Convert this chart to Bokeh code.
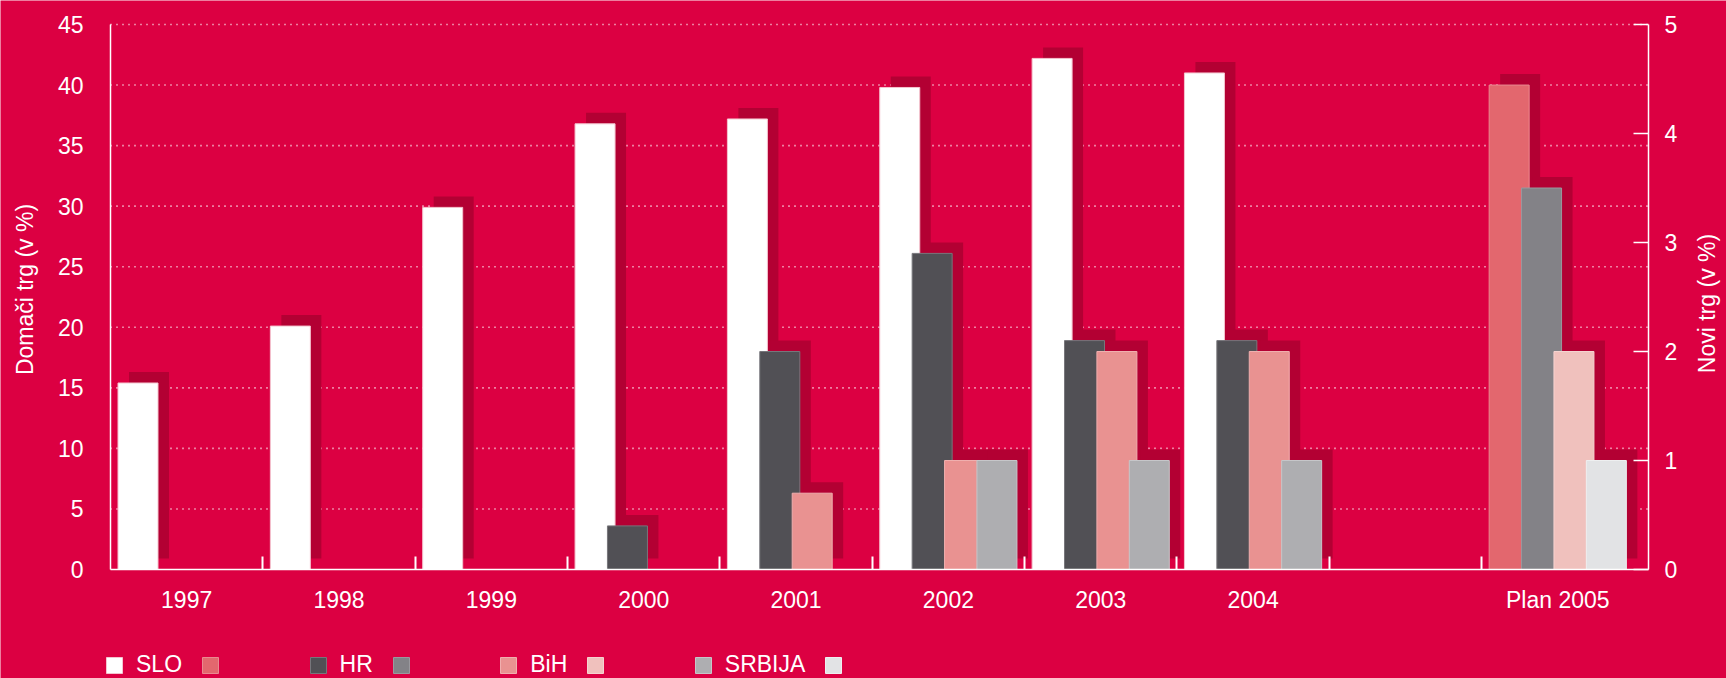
import math
from bokeh.plotting import figure
from bokeh.models import Range1d, LinearAxis, FixedTicker, Legend, LegendItem, Label
from bokeh.embed import file_html
from bokeh.resources import INLINE

# ---------------- data ----------------
categories = ["1997", "1998", "1999", "2000", "2001", "2002", "2003", "2004", "", "Plan 2005"]
# Domači trg (left axis, %)
slo_domaci = [15.4, 20.1, 29.9, 36.8, 37.2, 39.8, 42.2, 41.0, None, None]
# Novi trg (right axis, %)
hr_novi = [None, None, None, 0.4, 2.0, 2.9, 2.1, 2.1, None, None]
bih_novi = [None, None, None, None, 0.7, 1.0, 2.0, 2.0, None, None]
srb_novi = [None, None, None, None, None, 1.0, 1.0, 1.0, None, None]
# Plan 2005
plan_slo_domaci = [None, None, None, None, None, None, None, None, None, 40.0]
plan_hr_novi = [None, None, None, None, None, None, None, None, None, 3.5]
plan_bih_novi = [None, None, None, None, None, None, None, None, None, 2.0]
plan_srb_novi = [None, None, None, None, None, None, None, None, None, 1.0]

left_ticks = [0, 5, 10, 15, 20, 25, 30, 35, 40, 45]
right_ticks = [0, 1, 2, 3, 4, 5]
legend_names = ["SLO", "HR", "BiH", "SRBIJA"]
left_title = "Domači trg (v %)"
right_title = "Novi trg (v %)"

# ---------------- style / geometry (pixels) ----------------
BG = "#DC0042"
SHADOW = "#B30033"
FONT = "Liberation Sans"
FS = "23px"

W, H = 1726, 678
AX_L, AX_R, AX_T, AX_B = 110, 1648, 24, 569      # plotting area inside the canvas
CAT_PX = 152.35
PX_X = CAT_PX                                     # px per category
PX_L = (AX_B - AX_T) / 45                         # px per left-axis unit
PX_R = (AX_B - AX_T) / 5                          # px per right-axis unit
X_AXIS_END = (AX_R - AX_L) / PX_X
BAR_W = 40 / PX_X
SLOT0 = 27.5 / PX_X
SLOT_STEP = 32.4 / PX_X
SH_DX = 11 / PX_X
SH_DY_LEFT = 11 / PX_L
SH_DY_RIGHT = 11 / PX_R

p = figure(width=W, height=H, output_backend="svg", toolbar_location=None,
           x_range=Range1d(-AX_L / PX_X, (W - AX_L) / PX_X),
           y_range=Range1d(-(H - AX_B) / PX_L, AX_B / PX_L),
           x_axis_location=None, y_axis_location=None,
           min_border_left=0, min_border_right=0, min_border_top=0, min_border_bottom=0)
p.extra_y_ranges = {"novi": Range1d(-(H - AX_B) / PX_R, AX_B / PX_R)}
p.background_fill_color = BG
p.border_fill_color = BG
p.outline_line_color = None
p.grid.visible = False

# dotted horizontal grid lines
p.segment(x0=0, x1=X_AXIS_END, y0=left_ticks[1:], y1=left_ticks[1:],
          line_color="white", line_width=1.6, line_dash="1 5")

series = [
    # name, values, slot, fill, outline, range
    ("SLO", slo_domaci, 0, "#FFFFFF", "#F4C4CF", "default"),
    ("HR", hr_novi, 1, "#515055", "#77767B", "novi"),
    ("BiH", bih_novi, 2, "#E99291", "#F0AFAE", "novi"),
    ("SRBIJA", srb_novi, 3, "#AEAEB1", "#C6C6C9", "novi"),
    ("SLO plan", plan_slo_domaci, 0, "#E3676E", "#EA8990", "default"),
    ("HR plan", plan_hr_novi, 1, "#838287", "#9A999E", "novi"),
    ("BiH plan", plan_bih_novi, 2, "#F0C1BD", "#F5D3D0", "novi"),
    ("SRBIJA plan", plan_srb_novi, 3, "#E2E3E5", "#EEEFF0", "novi"),
]


def xy(values, slot):
    xs, ys = [], []
    for k, v in enumerate(values):
        if v is not None:
            xs.append(k + SLOT0 + slot * SLOT_STEP)
            ys.append(v)
    return xs, ys

# shadows first
for name, vals, slot, fill, outline, rn in series:
    xs, ys = xy(vals, slot)
    dy = SH_DY_LEFT if rn == "default" else SH_DY_RIGHT
    p.vbar(x=[x + SH_DX for x in xs], bottom=dy, top=[y + dy for y in ys], width=BAR_W,
           fill_color=SHADOW, line_color=None, y_range_name=rn)

renderers = {}
for name, vals, slot, fill, outline, rn in series:
    xs, ys = xy(vals, slot)
    renderers[name] = p.vbar(x=xs, bottom=0, top=ys, width=BAR_W, fill_color=fill,
                             line_color=outline, line_width=1, y_range_name=rn)


def style_axis(ax):
    ax.axis_line_color = "white"
    ax.axis_line_width = 1.5
    ax.major_label_text_color = "white"
    ax.major_label_text_font = FONT
    ax.major_label_text_font_size = FS
    ax.major_tick_out = 0
    ax.minor_tick_out = 0

# x axis on the 0 baseline
centers = [k + 0.5 for k, c in enumerate(categories) if c]
bounds = list(range(1, len(categories)))
xa = LinearAxis(fixed_location=0, bounds=(0, X_AXIS_END),
                ticker=FixedTicker(ticks=centers, minor_ticks=bounds))
style_axis(xa)
xa.major_label_overrides = {k + 0.5: c for k, c in enumerate(categories) if c}
xa.major_tick_in = 0
xa.minor_tick_in = 13
xa.minor_tick_line_color = "white"
xa.minor_tick_line_width = 2
xa.major_label_standoff = 17
p.add_layout(xa, "below")

# left axis
ya = LinearAxis(fixed_location=0, bounds=(0, 45), ticker=FixedTicker(ticks=left_ticks))
style_axis(ya)
ya.major_tick_in = 0
ya.minor_tick_in = 0
ya.minor_tick_line_color = None
ya.major_label_standoff = 27
p.add_layout(ya, "left")

# right axis
ra = LinearAxis(y_range_name="novi", fixed_location=X_AXIS_END, bounds=(0, 5),
                ticker=FixedTicker(ticks=right_ticks))
style_axis(ra)
ra.major_tick_in = 15
ra.major_tick_line_color = "white"
ra.major_tick_line_width = 1.5
ra.minor_tick_in = 0
ra.minor_tick_line_color = None
ra.major_label_standoff = 16
p.add_layout(ra, "right")

# axis titles
p.add_layout(Label(x=(24 - AX_L) / PX_X, y=(AX_B - 289) / PX_L, text=left_title,
                   angle=math.pi / 2, text_align="center", text_baseline="middle",
                   text_color="white", text_font=FONT, text_font_size=FS))
p.add_layout(Label(x=(1706 - AX_L) / PX_X, y=(AX_B - 303) / PX_R, y_range_name="novi",
                   text=right_title, angle=math.pi / 2, text_align="center",
                   text_baseline="middle", text_color="white", text_font=FONT,
                   text_font_size=FS))

# ---------------- legend ----------------
BLANK = "\u2002" * 5
items = []
for name in legend_names:
    items.append(LegendItem(label=name, renderers=[renderers[name]]))
    items.append(LegendItem(label=BLANK, renderers=[renderers[name + " plan"]]))

legend = Legend(items=items, location=(104, 0), orientation="horizontal",
                glyph_width=20, glyph_height=20, label_standoff=12, spacing=18,
                padding=0, margin=0, background_fill_alpha=0, border_line_alpha=0,
                label_text_color="white", label_text_font=FONT, label_text_font_size=FS)
p.add_layout(legend)

open("out.html", "w").write(file_html(p, INLINE))
